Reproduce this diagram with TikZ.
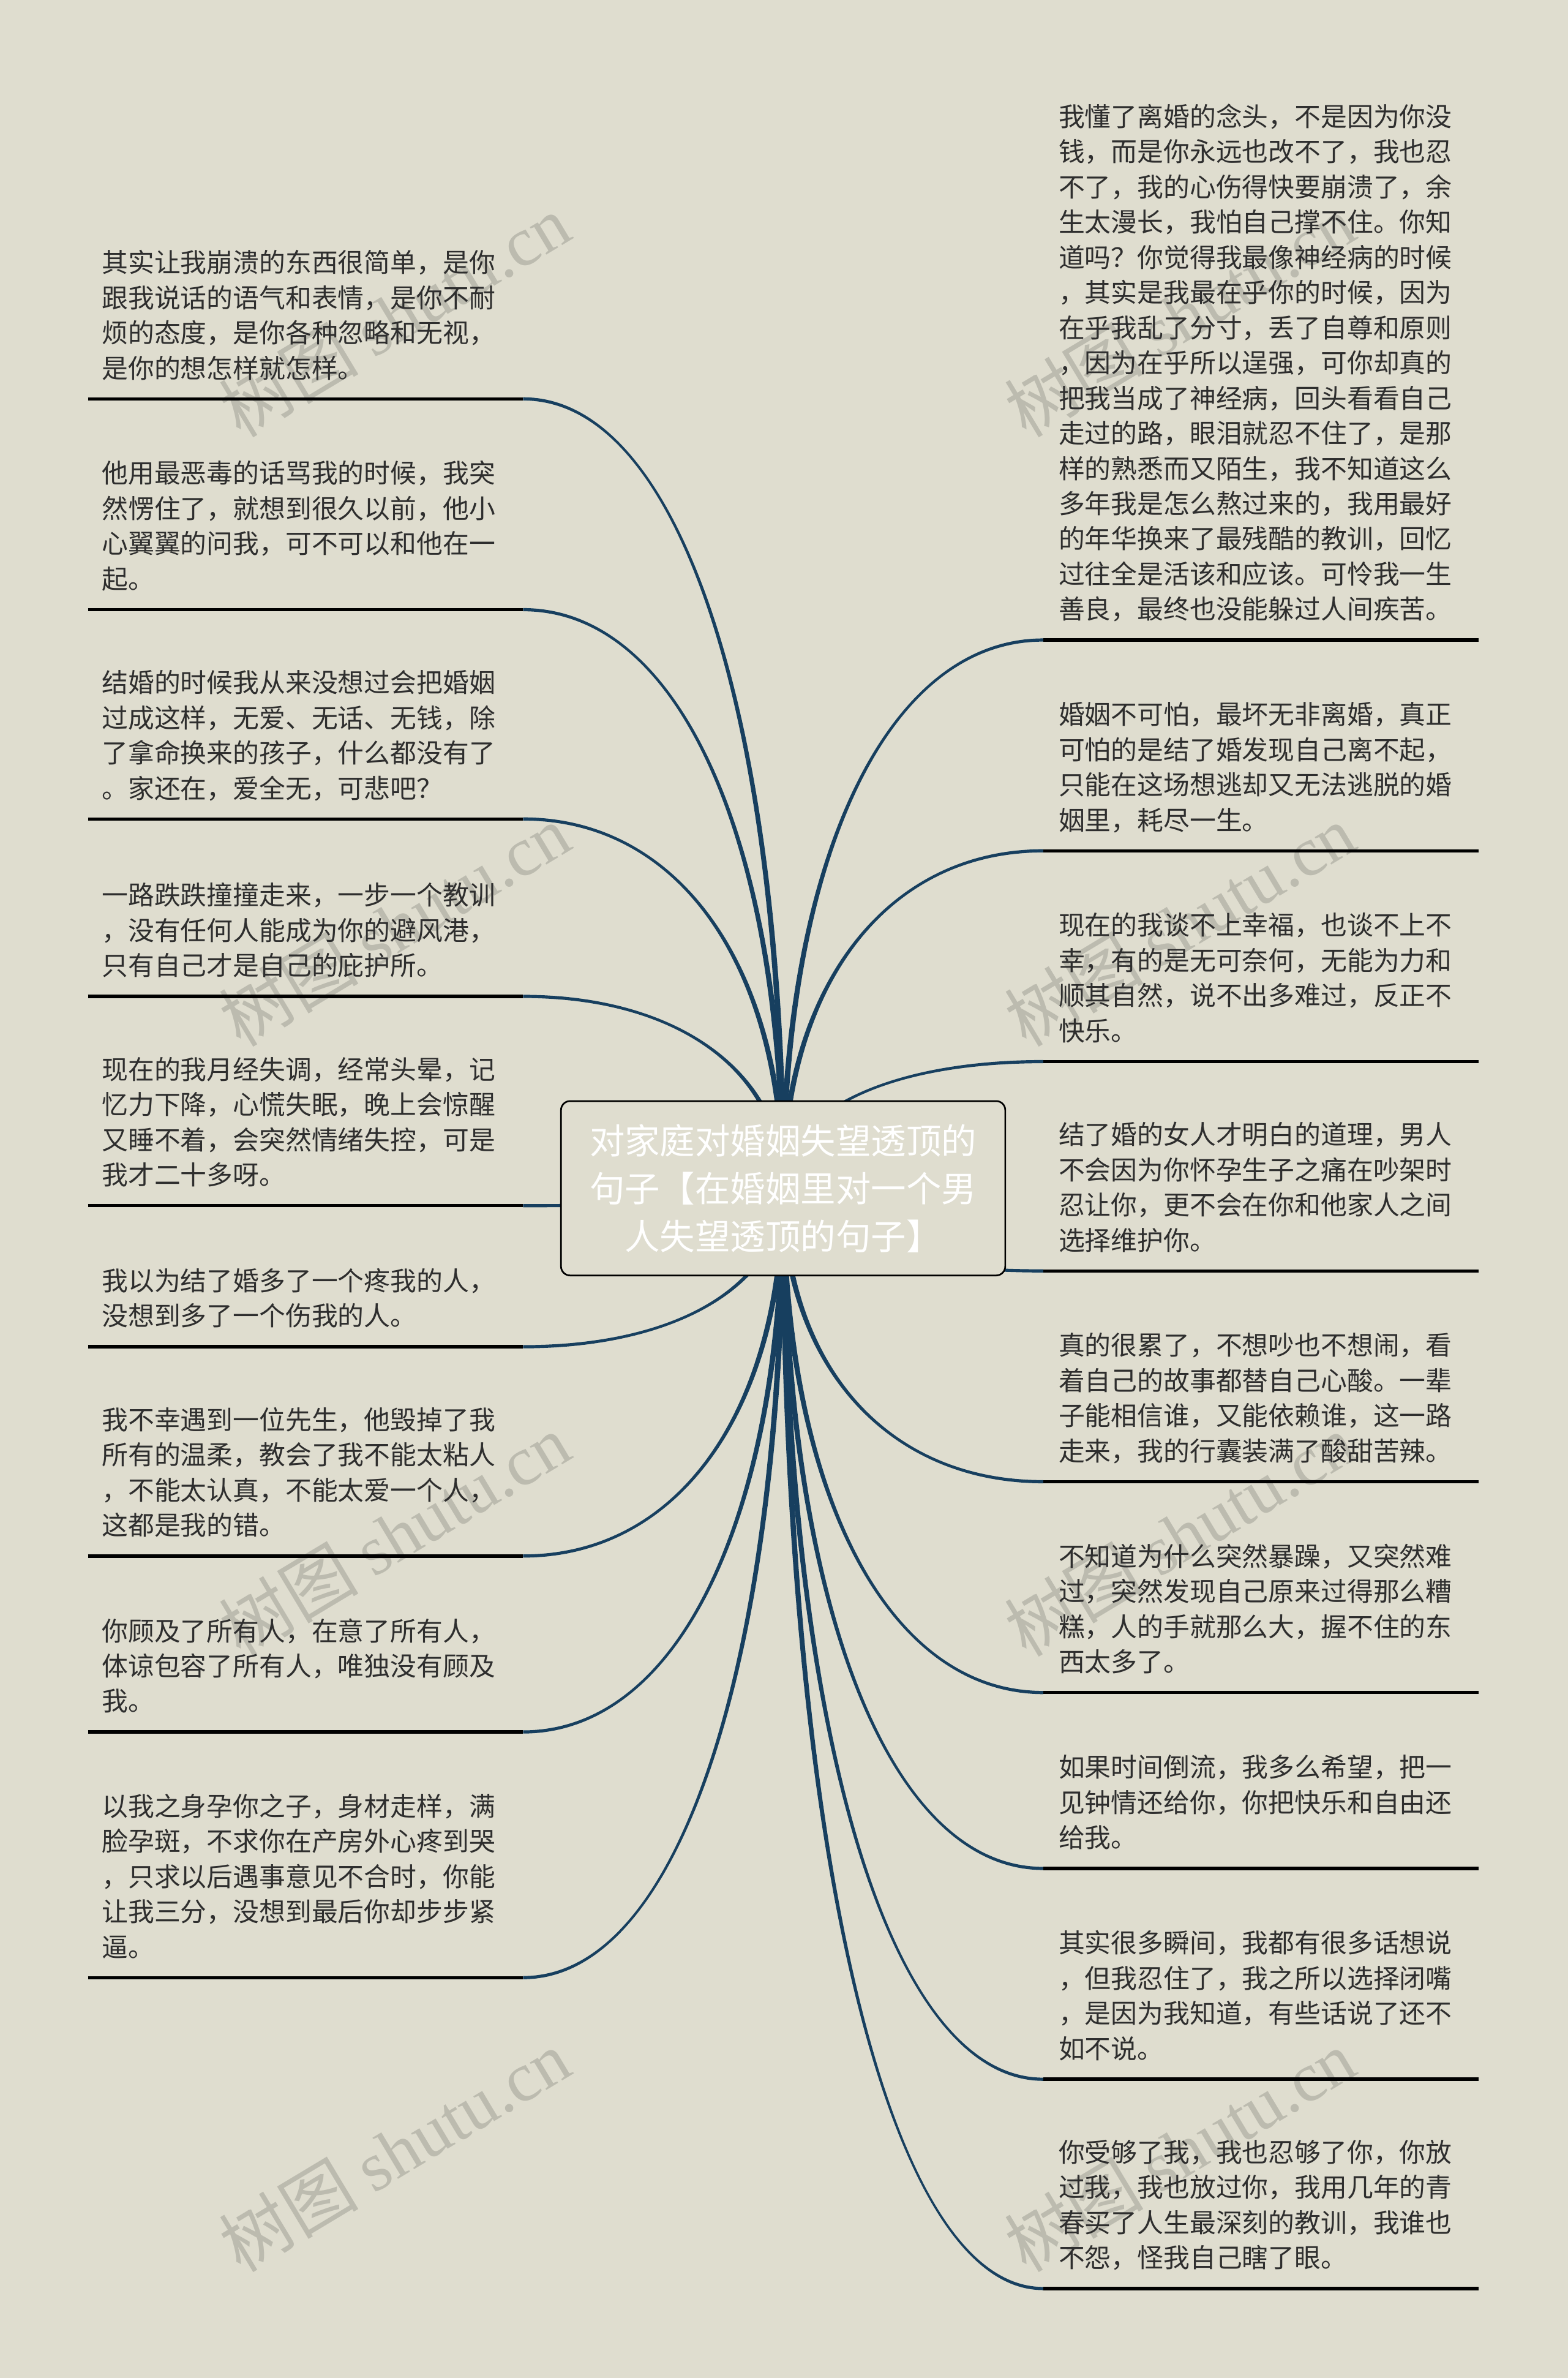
\documentclass[tikz,border=0pt]{standalone}
\usepackage{fontspec}
\setmainfont{Noto Sans CJK SC}
\newfontfamily\wmlat{Liberation Serif}
\usetikzlibrary{calc}
\definecolor{bgc}{HTML}{DFDDCF}
\definecolor{conncol}{HTML}{173F5F}
\definecolor{textc}{HTML}{2E2E2E}
\definecolor{wmc}{HTML}{BCBBAF}
\pgfdeclarelayer{back}
\pgfdeclarelayer{links}
\pgfsetlayers{back,links,main}
\newcommand\leaffont{\fontsize{17.3}{23.2}\selectfont}
\newcommand\titlefont{\fontsize{23.2}{31.5}\selectfont}
\newcommand\wmfont{\fontsize{46}{50}\selectfont}
\newcommand\ls[1]{\begin{tabular}[t]{@{}l@{}}#1\end{tabular}}
\def\wa{1.9}
\def\wb{1.05}
% tapered connector from root centre to a named end coordinate
\newcommand\tconn[2]{%
  \fill[conncol]
    ($(root.center)+(\wa,0)$)
    .. controls ($(root.center)!0.6!(root.center|-#1)+(\wa,0)$)
           and ($(#1)!0.6!(#1-|root.center)+(0,{(#2)*\wb})$) ..
    ($(#1)+(0,{(#2)*\wb})$)
    -- ($(#1)+(0,{-1*(#2)*\wb})$)
    .. controls ($(#1)!0.6!(#1-|root.center)+(0,{-1*(#2)*\wb})$)
           and ($(root.center)!0.6!(root.center|-#1)+(-\wa,0)$) ..
    ($(root.center)+(-\wa,0)$) -- cycle;}
\begin{document}
\begin{tikzpicture}[x=1pt,y=-1pt,
  leaf/.style={anchor=base west,inner sep=0pt,text=textc,font=\leaffont},
  uline/.style={draw=black,line width=2.2pt},
  wm/.style={text=wmc,rotate=31,inner sep=0pt,font=\wmfont},
  rootbox/.style={draw=black,line width=1.1pt,rounded corners=6pt,fill=bgc,
    minimum width=293pt,minimum height=115pt,inner sep=0pt,text=white,
    align=center,font=\titlefont}]
\useasboundingbox (0,0) rectangle (1034,1568);
\begin{pgfonlayer}{back}
\fill[bgc] (0,0) rectangle (1034,1568);
\node[wm] (wm1) at (260,208) {树图 {\wmlat shutu.cn}};
\node[wm] (wm2) at (778,208) {树图 {\wmlat shutu.cn}};
\node[wm] (wm3) at (260,610) {树图 {\wmlat shutu.cn}};
\node[wm] (wm4) at (778,610) {树图 {\wmlat shutu.cn}};
\node[wm] (wm5) at (260,1012) {树图 {\wmlat shutu.cn}};
\node[wm] (wm6) at (778,1012) {树图 {\wmlat shutu.cn}};
\node[wm] (wm7) at (260,1418) {树图 {\wmlat shutu.cn}};
\node[wm] (wm8) at (778,1418) {树图 {\wmlat shutu.cn}};
\end{pgfonlayer}

\node[rootbox] (root) at (516.5,783.5) {对家庭对婚姻失望透顶的\\句子【在婚姻里对一个男\\人失望透顶的句子】};

% ---------- left side ----------
\node[leaf] (L1) at (67,179.6) {\ls{其实让我崩溃的东西很简单，是你\\跟我说话的语气和表情，是你不耐\\烦的态度，是你各种忽略和无视，\\是你的想怎样就怎样。}};
\coordinate (L1a) at (58,263); \coordinate (L1b) at (345,263);
\node[leaf] (L2) at (67,318.6) {\ls{他用最恶毒的话骂我的时候，我突\\然愣住了，就想到很久以前，他小\\心翼翼的问我，可不可以和他在一\\起。}};
\coordinate (L2a) at (58,402); \coordinate (L2b) at (345,402);
\node[leaf] (L3) at (67,456.6) {\ls{结婚的时候我从来没想过会把婚姻\\过成这样，无爱、无话、无钱，除\\了拿命换来的孩子，什么都没有了\\。家还在，爱全无，可悲吧？}};
\coordinate (L3a) at (58,540); \coordinate (L3b) at (345,540);
\node[leaf] (L4) at (67,596.8) {\ls{一路跌跌撞撞走来，一步一个教训\\，没有任何人能成为你的避风港，\\只有自己才是自己的庇护所。}};
\coordinate (L4a) at (58,657); \coordinate (L4b) at (345,657);
\node[leaf] (L5) at (67,711.6) {\ls{现在的我月经失调，经常头晕，记\\忆力下降，心慌失眠，晚上会惊醒\\又睡不着，会突然情绪失控，可是\\我才二十多呀。}};
\coordinate (L5a) at (58,795); \coordinate (L5b) at (345,795);
\node[leaf] (L6) at (67,851) {\ls{我以为结了婚多了一个疼我的人，\\没想到多了一个伤我的人。}};
\coordinate (L6a) at (58,888); \coordinate (L6b) at (345,888);
\node[leaf] (L7) at (67,942.6) {\ls{我不幸遇到一位先生，他毁掉了我\\所有的温柔，教会了我不能太粘人\\，不能太认真，不能太爱一个人，\\这都是我的错。}};
\coordinate (L7a) at (58,1026); \coordinate (L7b) at (345,1026);
\node[leaf] (L8) at (67,1081.8) {\ls{你顾及了所有人，在意了所有人，\\体谅包容了所有人，唯独没有顾及\\我。}};
\coordinate (L8a) at (58,1142); \coordinate (L8b) at (345,1142);
\node[leaf] (L9) at (67,1197.4) {\ls{以我之身孕你之子，身材走样，满\\脸孕斑，不求你在产房外心疼到哭\\，只求以后遇事意见不合时，你能\\让我三分，没想到最后你却步步紧\\逼。}};
\coordinate (L9a) at (58,1304); \coordinate (L9b) at (345,1304);

% ---------- right side ----------
\node[leaf] (R1) at (698,83.4) {\ls{我懂了离婚的念头，不是因为你没\\钱，而是你永远也改不了，我也忍\\不了，我的心伤得快要崩溃了，余\\生太漫长，我怕自己撑不住。你知\\道吗？你觉得我最像神经病的时候\\，其实是我最在乎你的时候，因为\\在乎我乱了分寸，丢了自尊和原则\\，因为在乎所以逞强，可你却真的\\把我当成了神经病，回头看看自己\\走过的路，眼泪就忍不住了，是那\\样的熟悉而又陌生，我不知道这么\\多年我是怎么熬过来的，我用最好\\的年华换来了最残酷的教训，回忆\\过往全是活该和应该。可怜我一生\\善良，最终也没能躲过人间疾苦。}};
\coordinate (R1a) at (688,422); \coordinate (R1b) at (975,422);
\node[leaf] (R2) at (698,477.6) {\ls{婚姻不可怕，最坏无非离婚，真正\\可怕的是结了婚发现自己离不起，\\只能在这场想逃却又无法逃脱的婚\\姻里，耗尽一生。}};
\coordinate (R2a) at (688,561); \coordinate (R2b) at (975,561);
\node[leaf] (R3) at (698,616.6) {\ls{现在的我谈不上幸福，也谈不上不\\幸，有的是无可奈何，无能为力和\\顺其自然，说不出多难过，反正不\\快乐。}};
\coordinate (R3a) at (688,700); \coordinate (R3b) at (975,700);
\node[leaf] (R4) at (698,754.6) {\ls{结了婚的女人才明白的道理，男人\\不会因为你怀孕生子之痛在吵架时\\忍让你，更不会在你和他家人之间\\选择维护你。}};
\coordinate (R4a) at (688,838); \coordinate (R4b) at (975,838);
\node[leaf] (R5) at (698,893.6) {\ls{真的很累了，不想吵也不想闹，看\\着自己的故事都替自己心酸。一辈\\子能相信谁，又能依赖谁，这一路\\走来，我的行囊装满了酸甜苦辣。}};
\coordinate (R5a) at (688,977); \coordinate (R5b) at (975,977);
\node[leaf] (R6) at (698,1032.6) {\ls{不知道为什么突然暴躁，又突然难\\过，突然发现自己原来过得那么糟\\糕，人的手就那么大，握不住的东\\西太多了。}};
\coordinate (R6a) at (688,1116); \coordinate (R6b) at (975,1116);
\node[leaf] (R7) at (698,1171.8) {\ls{如果时间倒流，我多么希望，把一\\见钟情还给你，你把快乐和自由还\\给我。}};
\coordinate (R7a) at (688,1232); \coordinate (R7b) at (975,1232);
\node[leaf] (R8) at (698,1287.6) {\ls{其实很多瞬间，我都有很多话想说\\，但我忍住了，我之所以选择闭嘴\\，是因为我知道，有些话说了还不\\如不说。}};
\coordinate (R8a) at (688,1371); \coordinate (R8b) at (975,1371);
\node[leaf] (R9) at (698,1425.6) {\ls{你受够了我，我也忍够了你，你放\\过我，我也放过你，我用几年的青\\春买了人生最深刻的教训，我谁也\\不怨，怪我自己瞎了眼。}};
\coordinate (R9a) at (688,1509); \coordinate (R9b) at (975,1509);

% underlines
\foreach \n in {L1,L2,L3,L4,L5,L6,L7,L8,L9,R1,R2,R3,R4,R5,R6,R7,R8,R9}
  \draw[uline] (\n a) -- (\n b);

% connectors
\begin{pgfonlayer}{links}
\tconn{L1b}{-1}\tconn{L2b}{-1}\tconn{L3b}{-1}\tconn{L4b}{-1}
\tconn{L5b}{1}\tconn{L6b}{1}\tconn{L7b}{1}\tconn{L8b}{1}\tconn{L9b}{1}
\tconn{R1a}{1}\tconn{R2a}{1}\tconn{R3a}{1}
\tconn{R4a}{-1}\tconn{R5a}{-1}\tconn{R6a}{-1}\tconn{R7a}{-1}\tconn{R8a}{-1}\tconn{R9a}{-1}
\end{pgfonlayer}
\end{tikzpicture}
\end{document}
